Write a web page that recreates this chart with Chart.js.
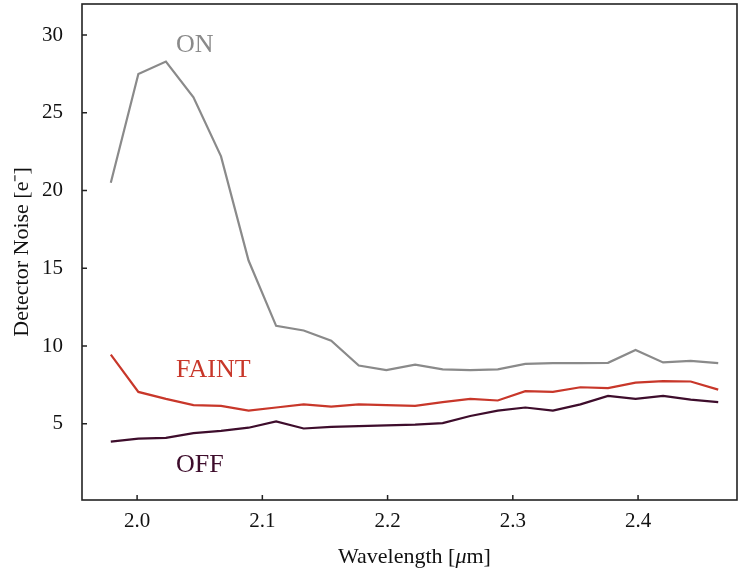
<!DOCTYPE html>
<html>
<head>
<meta charset="utf-8">
<script src="https://cdn.jsdelivr.net/npm/chart.js@4"></script>
<style>
  html, body { margin: 0; padding: 0; background: #ffffff; }
  #wrap { width: 740px; height: 570px; }
</style>
</head>
<body>
<div id="wrap"><canvas id="c" width="740" height="570"></canvas></div>
<script>
const wavelength = [1.979, 2.001, 2.023, 2.045, 2.067, 2.089, 2.111, 2.133, 2.155, 2.177, 2.199, 2.222,
                    2.244, 2.266, 2.288, 2.310, 2.332, 2.354, 2.376, 2.398, 2.420, 2.442, 2.464];
const onNoise    = [20.5, 27.5, 28.3, 26.0, 22.2, 15.5, 11.3, 11.0, 10.35, 8.75, 8.45, 8.8,
                    8.5, 8.45, 8.5, 8.85, 8.9, 8.9, 8.92, 9.75, 8.95, 9.05, 8.9];
const faintNoise = [9.45, 7.05, 6.6, 6.2, 6.15, 5.85, 6.05, 6.25, 6.1, 6.25, 6.2, 6.15,
                    6.4, 6.6, 6.5, 7.1, 7.05, 7.35, 7.3, 7.65, 7.75, 7.72, 7.2];
const offNoise   = [3.85, 4.05, 4.1, 4.4, 4.55, 4.75, 5.15, 4.7, 4.8, 4.85, 4.9, 4.95,
                    5.05, 5.5, 5.85, 6.05, 5.85, 6.25, 6.8, 6.6, 6.8, 6.55, 6.4];
const xTicks = [2.0, 2.1, 2.2, 2.3, 2.4];
const yTicks = [5, 10, 15, 20, 25, 30];
const seriesLabels = [
  { text: 'ON',    x: 2.031, y: 28.93, color: '#8a8a8a' },
  { text: 'FAINT', x: 2.031, y: 7.98,  color: '#c8372a' },
  { text: 'OFF',   x: 2.031, y: 1.92,  color: '#3e0d2c' }
];

const SERIF = '"Liberation Serif", "Times New Roman", serif';

function toPoints(ys) { return wavelength.map((w, i) => ({ x: w, y: ys[i] })); }

const framePlugin = {
  id: 'frame',
  afterDraw(chart) {
    const { ctx, chartArea: a, scales } = chart;
    ctx.save();
    // inward tick marks
    ctx.strokeStyle = '#222222';
    ctx.lineWidth = 1.5;
    ctx.beginPath();
    xTicks.forEach(v => {
      const px = scales.x.getPixelForValue(v);
      ctx.moveTo(px, a.bottom);
      ctx.lineTo(px, a.bottom - 5);
    });
    yTicks.forEach(v => {
      const py = scales.y.getPixelForValue(v);
      ctx.moveTo(a.left, py);
      ctx.lineTo(a.left + 5, py);
    });
    ctx.stroke();
    // box
    ctx.lineWidth = 1.6;
    ctx.strokeStyle = '#222222';
    ctx.strokeRect(a.left, a.top, a.right - a.left, a.bottom - a.top);
    // series labels
    ctx.font = '26px ' + SERIF;
    ctx.textAlign = 'left';
    ctx.textBaseline = 'alphabetic';
    seriesLabels.forEach(l => {
      ctx.fillStyle = l.color;
      ctx.fillText(l.text, scales.x.getPixelForValue(l.x), scales.y.getPixelForValue(l.y));
    });
    // x-axis title with italic mu
    const parts = [
      { t: 'Wavelength [', f: '22px ' + SERIF },
      { t: 'μ', f: 'italic 22px ' + SERIF },
      { t: 'm]', f: '22px ' + SERIF }
    ];
    let total = 0;
    parts.forEach(p => { ctx.font = p.f; p.w = ctx.measureText(p.t).width; total += p.w; });
    let tx = (a.left + a.right) / 2 + 5 - total / 2;
    const ty = 563;
    ctx.fillStyle = '#111111';
    ctx.textBaseline = 'alphabetic';
    parts.forEach(p => { ctx.font = p.f; ctx.fillText(p.t, tx, ty); tx += p.w; });
    ctx.restore();
  }
};

new Chart(document.getElementById('c'), {
  type: 'line',
  data: {
    datasets: [
      { label: 'ON',    data: toPoints(onNoise),    borderColor: '#8a8a8a', borderWidth: 2.2, pointRadius: 0, tension: 0, fill: false },
      { label: 'FAINT', data: toPoints(faintNoise), borderColor: '#c8372a', borderWidth: 2.2, pointRadius: 0, tension: 0, fill: false },
      { label: 'OFF',   data: toPoints(offNoise),   borderColor: '#3e0d2c', borderWidth: 2.2, pointRadius: 0, tension: 0, fill: false }
    ]
  },
  options: {
    responsive: false,
    animation: false,
    devicePixelRatio: 1,
    layout: { padding: { top: 4, right: 3, left: 0, bottom: 0 } },
    plugins: { legend: { display: false }, tooltip: { enabled: false } },
    scales: {
      x: {
        type: 'linear',
        min: 1.956,
        max: 2.479,
        afterBuildTicks: s => { s.ticks = xTicks.map(v => ({ value: v })); },
        afterFit: s => { s.height = 70; s.paddingLeft = 0; s.paddingRight = 0; },
        grid: { drawOnChartArea: false, drawTicks: false },
        border: { display: false },
        ticks: {
          padding: 9,
          color: '#111111',
          font: { family: SERIF, size: 21 },
          callback: v => Number(v).toFixed(1),
          maxRotation: 0
        },
        title: { display: false }
      },
      y: {
        type: 'linear',
        min: 0.1,
        max: 32,
        afterBuildTicks: s => { s.ticks = yTicks.map(v => ({ value: v })); },
        afterFit: s => { s.width = 82; s.paddingTop = 0; s.paddingBottom = 0; },
        grid: { drawOnChartArea: false, drawTicks: false },
        border: { display: false },
        ticks: {
          padding: 19,
          color: '#111111',
          font: { family: SERIF, size: 21 },
          callback: v => String(v)
        },
        title: {
          display: true,
          text: 'Detector Noise [e⁻]',
          color: '#111111',
          font: { family: SERIF, size: 22 },
          padding: { top: 9, bottom: 0 }
        }
      }
    }
  },
  plugins: [framePlugin]
});
</script>
</body>
</html>
